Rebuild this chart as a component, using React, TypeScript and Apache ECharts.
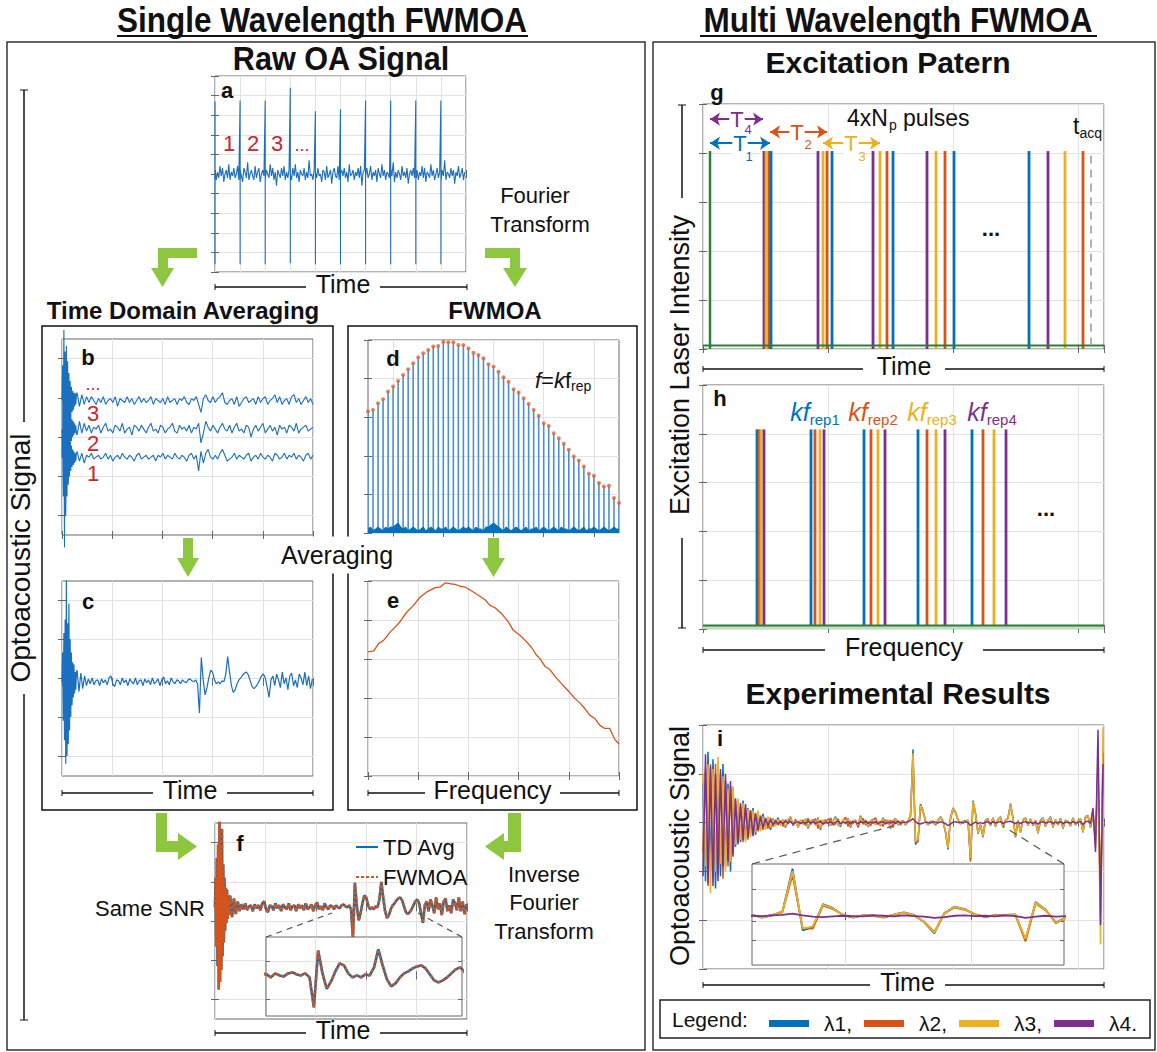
import React, { useEffect, useRef } from "react";
import * as echarts from "echarts";

// ---------------- colours & fonts ----------------
const BLUE = "#0072BD";
const SIG = "#1a6fbf";
const ORANGE = "#D95319";
const YELLOW = "#EDB120";
const PURPLE = "#7E2F8E";
const GREEN = "#2E7D3A";
const RED = "#C8262C";
const ARROW_GREEN = "#8DC63F";
const FRAME = "#666666";
const GRIDC = "#e2e2e2";
const SANS = "'Liberation Sans', Arial, Helvetica, sans-serif";

// ---------------- (a) raw OA signal ----------------
const rawSpikeX = [0, 10, 20, 30, 40, 50, 60, 70, 80, 90];
const rawSpikeTop = [3.7, 3.75, 3.75, 4.4, 3.2, 3.3, 3.75, 3.75, 3.75, 3.75];
const rawSpikeBottom = [-4.6, -4.6, -4.6, -4.55, -4.6, -4.6, -4.6, -4.6, -4.6, -4.6];
const rawNoiseTenths = [
  2, -3, 1, -2, 4, -1, 3, -4, 0, 2, -2, 5, -3, 1, -1, 3, -2, 0, 4, -3, 2, -1, -4, 3, 1, -2, 6, -3, 0, 2, -1, -3, 4, -2, 1, 3, -4, 0, 2, -1,
  -3, 2, 0, -2, 5, -1, 3, -3, 1, -6, 2, 0, -2, 3, -1, 4, -3, 1, -2, 2, 0, -3, 3, -1, 5, -2, 1, -4, 2, 0, -1, 3, -3, 1, -2, 7, -1, 0, -3, 2,
  1, -2, 3, -1, 0, -4, 2, 1, -3, 4, -2, 0, 2, -5, 1, 3, -1, -2, 4, -3, 0, 2, -1, 3, -2, 1, -4, 5, -1, 0, 2, -3, 1, -1, 3, -2, 4, -6, 1, 2,
  -1, 3, -2, 0, 4, -3, 1, -1, 2, -4, 3, 0, -2, 5, -1, 2, -3, 1, 0, -2, 3, -1, 6, -4, 1, -2, 2, 0, -3, 4, -1, 1, -2, 3, -5, 0, 2, -1, 3, -2,
  0, 2, -3, 1, -1, 4, -2, 3, -4, 1, 0, -2, 5, -1, 2, -3, 0, 3, -2, 1, -4, 2, -1, 7, -3, 1, 0, -2, 3, -1, 2, -5, 1, -1, 4, -2, 0, 3, -3, 1,
];

// ---------------- (b) single acquisitions (tenths, relative to each trace level) ----------------
const bLevels = [6.86, 5.4, 3.97];
const bBurst3 = [0, 18, -25, 36, -30, 25, -35, 28, -22, 20, -16, 14, -12, 10, -8, 7, -6, 5, -5, 4, -3, 4, -2, 3];
const bBurst2 = [0, -15, 22, -28, 30, -24, 26, -20, 18, -15, 12, -10, 9, -8, 7, -6, 5, -4, 4, -3, 3, -2, 2, -2];
const bBurst1 = [0, 12, -20, 25, -46, 45, -30, 22, -20, 16, -14, 12, -10, 8, -7, 6, -5, 4, -4, 3, -3, 2, -2, 2];
const bBody3 = [
  4, -3, 3, -2, 2, -1, 2, 0, -2, 1, -1, 2, -2, 0, 1, -1, 2, -3, 1, 0, -1, 2, -1, 1, -2, 0, 2, -1, 1, -1,
  0, 2, -2, 1, 0, -1, 1, -2, 2, -1, 0, 1, -2, 1, 0, 2, -1, -2, 1, 0, 2, -2, -6, 1, 3, 0, -1, 2, -1, 1,
  2, 4, -1, -2, 0, 1, -2, 2, -3, -1, 1, 2, -1, 0, 1, -2, 2, -1, 1, 2, -2, 0, 1, 3, -1, 2, -2, 0, 1, -2,
  2, 3, -1, 1, -2, 0, 2, -1, 1, -2,
];
const bBody2 = [
  -3, 4, -2, 3, -1, 2, -2, 1, 0, 2, -2, 1, 3, -1, 0, -2, 2, 1, -1, 3, -2, 0, 1, -3, 2, 1, -1, 2, 0, -2,
  1, 3, -1, 0, -2, 2, 1, -2, 0, 1, 3, -1, -2, 2, 0, 1, -1, 2, -2, 1, 0, 3, -7, -2, 4, 1, -1, 2, 0, -2,
  1, 3, 0, -1, 2, -2, 1, 3, -1, 0, -2, 2, 1, -4, 0, 2, -1, 1, 3, -2, 0, 2, -1, 1, -3, 2, 0, 1, -2, 2,
  1, -1, 3, -2, 0, 1, 2, -1, 0, 1,
];
const bBody1 = [
  3, -2, 2, -3, 1, 0, 2, -1, 0, 1, -1, 0, 2, -1, 1, -2, 0, 1, -1, 2, 0, -1, 1, 0, -2, 1, 2, -1, 0, 1,
  -1, 0, 1, -2, 1, 0, 2, -1, 1, 0, -1, 2, 0, -1, 1, 0, -2, 1, 2, -1, 1, -7, 3, -3, 2, 4, 0, -1, 1, -1,
  2, 4, 1, -2, -1, 0, 2, -1, 1, 0, -1, 1, 2, -2, 0, 1, -1, 2, 0, -1, 1, 0, -2, 2, 1, -1, 0, 2, -1, 1,
  0, 2, -1, 1, 0, -2, 1, 2, -1, 1,
];

// ---------------- (c)/(f) averaged signal (relative to baseline) ----------------
const cBurst = [0, 1.5, -2.0, 2.5, -3.0, 3.2, -4.2, 5.5, -3.8, 3.0, -3.2, 4.0, -2.5, 2.2, -1.8, 1.5, -1.2, 1.0, -0.8, 0.9, -0.6, 0.5, -0.4, 0.5];
const cBody = [
  0.6, -0.5, 0.45, -0.35, 0.3, -0.2,
  0.15, -0.1, 0.2, -0.15, 0.05, 0.1, -0.2, 0.15, -0.05, 0.1,
  -0.15, 0.2, 0.3, -0.1, -0.25, 0.1, 0.05, -0.15, 0.2, -0.05,
  0.1, -0.2, 0.15, 0.0, -0.1, 0.2, -0.15, 0.05, 0.1, -0.2,
  0.15, -0.05, 0.1, -0.15, 0.2, -0.1, 0.0, 0.15, -0.2, 0.1,
  0.25, -0.1, 0.05, -0.15, 0.2, 0.0, -0.1, 0.1,
  0.05, -0.1, 0.1, 0.0, -0.05, 0.1, 0.15, 0.05, 0.0, 0.1, -0.1,
  -1.6, 1.25, 0.1, -0.67, -0.3, 0.2, 0.6, 0.5, 0.1, -0.1, 0.0, -0.1, 0.05, 0.0, 0.4, 1.3, 0.5, -0.2, -0.55, -0.4,
  -0.1, 0.1, 0.2, 0.35, 0.45, 0.5, 0.35, 0.05, -0.25, -0.35, -0.25, -0.1, 0.1, 0.3, 0.4,
  0.2, -0.3, -0.8, 0.1, 0.3, -0.2, 0.4, 0.1, -0.3, 0.5, -0.1, 0.2, -0.4, 0.3, 0.45, -0.2, 0.1, -0.3, 0.4, 0.2,
  -0.15, 0.5, -0.2, 0.3, -0.35, 0.15,
];

// ---------------- (d) spectrum at k*f_rep, (e) averaged spectrum ----------------
const dStem = [
  62.9, 63.8, 67.2, 69.3, 73.3, 75.9, 78.8, 81.9, 84.8, 87.9, 91.0, 93.1, 94.8, 96.6, 96.9, 99.1, 98.8, 98.8, 97.4, 97.4,
  95.7, 93.4, 92.2, 90.5, 87.4, 86.2, 83.6, 80.7, 78.4, 74.5, 72.8, 69.8, 66.9, 63.8, 60.7, 56.9, 55.5, 51.7, 49.1, 46.2,
  43.1, 39.7, 37.6, 34.5, 30.7, 29.7, 25.9, 24.1, 24.5, 18.1, 15.5,
];
const dFloor = [
  2, 3, 1, 2, 3, 2, 1, 3, 2, 3, 3, 4, 5, 3, 2, 3, 1, 2, 3, 2, 1, 2, 3, 1, 2, 3, 2, 1, 3, 2, 2, 3, 1, 2, 3, 2, 1, 2, 3, 2,
  3, 2, 1, 3, 2, 2, 1, 3, 3, 4, 5, 4, 3, 2, 1, 3, 2, 1, 2, 3, 2, 1, 2, 3, 1, 2, 2, 3, 1, 2, 3, 2, 1, 2, 3, 2, 1, 3, 2, 2,
  1, 2, 3, 2, 1, 2, 3, 1, 2, 2, 3, 2, 1, 2, 3, 2, 1, 2, 3, 2, 2,
];
const eX = [0, 1.13, 2.12, 3.11, 4.44, 6.09, 7.75, 9.07, 10.4, 11.72, 13.38, 14.37, 15.36, 16.36, 17.35, 18.34, 19.34, 20.66, 21.99, 23.31, 24.3, 25.3, 26.6, 27.95, 28.94, 30.26, 31.59, 32.58, 33.58, 34.24, 35.23, 36.23, 37.22, 38.54, 39.87, 41.19, 42.19, 43.18, 44.17, 45.17, 46.16, 47.15, 48.15, 49.14, 50];
const eY = [63.7, 64.2, 67.9, 69.6, 73.9, 78.2, 84.1, 87.5, 91.8, 94.4, 96.6, 96.9, 99.0, 98.6, 98.3, 97.3, 96.9, 94.9, 92.7, 90.4, 87.5, 86.3, 83.3, 79.0, 74.7, 72.2, 68.8, 65.9, 61.9, 60.2, 56.3, 54.6, 51.2, 47.4, 43.7, 39.8, 37.5, 34.6, 31.2, 29.5, 26.1, 24.4, 24.4, 18.8, 16.4];

// ---------------- (g) excitation pattern in time, (h) in frequency ----------------
const gGreen = [7];
const gBlue = [68, 129, 190, 251, 326];
const gOrange = [66, 124, 184, 242, 380];
const gYellow = [63, 120, 177, 233, 362];
const gPurple = [61, 115, 170, 224, 345];
const gHeight = 4.04;
const gTacq = 388;
const hBlue = [54, 108, 161, 215, 269];
const hOrange = [56, 112, 168, 224, 280];
const hYellow = [58, 117, 175, 233, 291];
const hPurple = [61, 121, 182, 242, 303];
const hHeight = 4.09;

// ---------------- (i) experimental results, 4 wavelengths ----------------
const iL1 = [
  0.8, -1.2, 1.45, -1.0, 1.3, -1.35, 0.9, -1.1, 1.2, -0.9, 0.8, -1.0, 0.7,
  -0.5, 0.45, -0.4, 0.45, -0.35, 0.3, -0.25, 0.3,
  -0.25, 0.2, -0.15, 0.18, -0.12, 0.1, -0.15, 0.08, -0.05, 0.1,
  -0.05, 0.06, -0.1, 0.04, 0.12, -0.06, 0.02, -0.08, 0.05, -0.03,
  0.08, -0.12, 0.03, 0.06, -0.05, 0.1, -0.15, 0.04, -0.02, 0.07,
  -0.06, 0.03, 0.12, -0.04, -0.08, 0.05, -0.02, 0.09, -0.1, 0.04,
  0.02, -0.06, 0.14, -0.03, 0.05, -0.09, 0.03, 0.07, -0.04, 0.02,
  -0.07, 0.1, -0.03, 0.05, -0.12, 0.04, 0.08, -0.05, 0.02, 0.04,
  -0.05, 0.02, 0.15, 1.5, -0.45, -0.35, 0.38, 0.25, 0.02, -0.05,
  0.03, 0.0, -0.04, 0.05, 0.12, 0.04, -0.2, -0.55, 0.1, 0.3,
  0.22, 0.05, -0.03, 0.02, 0.04, 0.05, -0.75, 0.45, 0.2, -0.23,
  -0.05, -0.3, 0.05,
  0.08, -0.06, 0.1, -0.08, 0.05, 0.12, -0.1, 0.04, 0.1, 0.39, 0.1, -0.3, 0.05, -0.2, 0.06,
  0.1, -0.05, 0.08, -0.06, 0.03, -0.22, 0.05, 0.1, -0.08, 0.04, 0.12, -0.1,
  0.06, -0.04, 0.09, -0.12, 0.05, 0.02, -0.07, 0.1, -0.05, 0.03,
  0.08, -0.2, 0.12, 0.15, -0.1,
  0.2, -0.4, 1.2, -1.9, 1.43,
];
const iL2 = [
  -0.6, 1.1, -1.3, 1.2, -1.1, 1.2, -0.8, 1.0, -1.15, 0.85, -0.9, 0.75, -0.65,
  0.45, -0.4, 0.35, -0.4, 0.3, -0.35, 0.25, -0.25,
  0.2, -0.18, 0.15, -0.15, 0.1, -0.12, 0.1, -0.08, 0.06, -0.05,
  0.04, -0.08, 0.06, -0.03, 0.1, -0.05, 0.07, -0.1, 0.02, 0.05,
  -0.06, 0.09, -0.04, 0.02, 0.08, -0.12, 0.05, -0.03, 0.06, -0.02,
  0.1, -0.05, -0.03, 0.08, -0.06, 0.04, 0.11, -0.08, 0.03, -0.02,
  0.06, -0.1, 0.04, 0.09, -0.05, 0.02, -0.07, 0.05, 0.1, -0.04,
  0.03, -0.08, 0.06, -0.02, 0.05, -0.1, 0.07, 0.02, -0.05, 0.03,
  -0.03, 0.04, 0.12, 1.3, -0.38, -0.4, 0.33, 0.22, 0.04, -0.04,
  0.02, 0.03, -0.05, 0.04, 0.1, 0.02, -0.18, -0.5, 0.08, 0.27,
  0.2, 0.06, -0.02, 0.03, 0.02, 0.04, -0.8, 0.4, 0.18, -0.2,
  -0.04, -0.27, 0.04,
  0.05, -0.04, 0.08, -0.06, 0.07, 0.1, -0.08, 0.05, 0.08, 0.35, 0.08, -0.27, 0.04, -0.18, 0.05,
  0.08, -0.06, 0.06, -0.04, 0.05, -0.2, 0.03, 0.08, -0.06, 0.05, 0.1, -0.08,
  0.05, -0.05, 0.07, -0.1, 0.04, 0.03, -0.06, 0.08, -0.04, 0.02,
  0.06, -0.18, 0.1, 0.12, -0.08,
  0.15, -0.3, 1.0, -1.6, 1.3,
];
const iL3 = [
  1.0, -0.9, 1.2, -1.45, 1.1, -1.0, 1.35, -0.85, 0.95, -1.0, 0.7, -0.8, 0.75,
  -0.45, 0.5, -0.35, 0.4, -0.4, 0.28, -0.3, 0.25,
  -0.2, 0.25, -0.18, 0.12, -0.15, 0.12, -0.1, 0.06, -0.08, 0.07,
  -0.06, 0.05, -0.08, 0.07, 0.1, -0.04, 0.03, -0.09, 0.06, -0.02,
  0.07, -0.1, 0.05, 0.04, -0.06, 0.08, -0.12, 0.06, -0.03, 0.05,
  -0.05, 0.04, 0.1, -0.06, -0.05, 0.07, -0.03, 0.08, -0.08, 0.05,
  0.03, -0.05, 0.12, -0.04, 0.06, -0.08, 0.04, 0.06, -0.05, 0.03,
  -0.06, 0.08, -0.04, 0.06, -0.1, 0.05, 0.07, -0.04, 0.03, 0.03,
  -0.04, 0.03, 0.14, 1.42, -0.4, -0.33, 0.36, 0.24, 0.03, -0.04,
  0.02, 0.01, -0.03, 0.05, 0.11, 0.03, -0.19, -0.52, 0.09, 0.29,
  0.21, 0.05, -0.02, 0.02, 0.03, 0.05, -0.72, 0.43, 0.19, -0.22,
  -0.05, -0.28, 0.05,
  0.07, -0.05, 0.09, -0.07, 0.06, 0.11, -0.09, 0.05, 0.09, 0.37, 0.09, -0.28, 0.05, -0.19, 0.06,
  0.09, -0.05, 0.07, -0.05, 0.04, -0.21, 0.04, 0.09, -0.07, 0.05, 0.11, -0.09,
  0.06, -0.04, 0.08, -0.11, 0.05, 0.02, -0.06, 0.09, -0.05, 0.03,
  0.07, -0.19, 0.11, 0.14, -0.09,
  0.25, -0.5, 0.9, -2.5, 1.95,
];
const iL4 = [
  -1.1, 1.4, -1.25, 1.15, -1.3, 1.0, -1.2, 1.1, -0.9, 1.0, -0.8, 0.85, -0.7,
  0.5, -0.45, 0.4, -0.35, 0.38, -0.3, 0.25, -0.28,
  0.18, -0.15, 0.12, -0.1, 0.08, -0.06, 0.05, -0.04, 0.03, -0.03,
  0.02, -0.02, 0.03, -0.01, 0.02, -0.03, 0.01, 0.02, -0.02, 0.01,
  -0.02, 0.03, -0.01, 0.02, -0.02, 0.01, 0.02, -0.03, 0.01, -0.01,
  0.02, -0.02, 0.01, 0.03, -0.02, 0.01, -0.01, 0.02, -0.03, 0.02,
  0.01, -0.02, 0.02, -0.01, 0.03, -0.02, 0.01, -0.01, 0.02, -0.02,
  0.01, 0.02, -0.02, 0.01, -0.01, 0.02, -0.02, 0.03, -0.01, 0.01,
  0.0, 0.02, 0.04, 0.08, 0.02, -0.02, -0.03, -0.01, 0.01, 0.0,
  -0.01, 0.02, 0.01, -0.01, 0.02, 0.0, -0.02, -0.06, -0.03, 0.01,
  0.02, 0.0, 0.01, -0.01, 0.02, 0.0, -0.06, -0.02, 0.01, -0.02,
  0.0, -0.02, 0.01,
  0.01, -0.02, 0.02, -0.01, 0.01, 0.02, -0.02, 0.01, 0.02, 0.03, 0.0, -0.02, 0.01, -0.02, 0.01,
  0.02, -0.01, 0.01, -0.02, 0.01, -0.03, 0.01, 0.02, -0.01, 0.01, 0.02, -0.02,
  0.01, -0.01, 0.02, -0.02, 0.01, 0.0, -0.01, 0.02, -0.01, 0.01,
  0.02, -0.04, 0.02, 0.03, -0.02,
  0.3, -0.6, 1.9, -2.1, 1.2,
];
const iNames = ["λ1,", "λ2,", "λ3,", "λ4."];

// ---------------- option builder ----------------
type Range = { min: number; max: number; interval?: number; custom?: number[] };
type Panel = { xi: number; yi: number };

function buildOption() {
  const grids: any[] = [];
  const xAxes: any[] = [];
  const yAxes: any[] = [];
  const series: any[] = [];
  const G: any[] = [];

  const axis = (gi: number, r: Range, pos: string, main: boolean, z: number) => {
    const a: any = {
      type: "value",
      gridIndex: gi,
      min: r.min,
      max: r.max,
      position: pos,
      z,
      axisLine: { show: false },
      axisLabel: { show: false },
      axisTick: { show: true, inside: true, length: 4, lineStyle: { color: FRAME, width: 1 } },
      splitLine: { show: main, lineStyle: { color: GRIDC, width: 1 } },
    };
    if (r.interval !== undefined) a.interval = r.interval;
    if (r.custom) {
      a.axisTick.customValues = r.custom;
      a.axisLabel.customValues = r.custom;
    }
    return a;
  };

  const addPanel = (rect: { left: number; top: number; width: number; height: number }, xr: Range, yr: Range, z = 0): Panel => {
    const gi = grids.length;
    grids.push({
      ...rect,
      show: true,
      backgroundColor: "#fff",
      borderColor: FRAME,
      borderWidth: 1,
      z,
      containLabel: false,
      outerBoundsMode: "none",
    });
    const xi = xAxes.length;
    xAxes.push(axis(gi, xr, "bottom", true, z + 1));
    xAxes.push(axis(gi, xr, "top", false, z + 1));
    const yi = yAxes.length;
    yAxes.push(axis(gi, yr, "left", true, z + 1));
    yAxes.push(axis(gi, yr, "right", false, z + 1));
    return { xi, yi };
  };

  const line = (p: Panel, data: any[], color: string, width: number, extra: any = {}) => {
    const { lineStyle, ...rest } = extra;
    series.push({
      type: "line",
      xAxisIndex: p.xi,
      yAxisIndex: p.yi,
      data,
      symbol: "none",
      showSymbol: false,
      silent: true,
      animation: false,
      itemStyle: { color },
      lineStyle: { color, width, ...(lineStyle || {}) },
      ...rest,
    });
  };

  const stems = (p: Panel, data: number[][], color: string, width: number, z = 2) => {
    series.push({
      type: "custom",
      xAxisIndex: p.xi,
      yAxisIndex: p.yi,
      data,
      silent: true,
      clip: true,
      z,
      encode: { x: 0, y: 1 },
      renderItem: (_params: any, api: any) => {
        const x = api.value(0);
        const y = api.value(1);
        const p0 = api.coord([x, 0]);
        const p1 = api.coord([x, y]);
        return { type: "line", shape: { x1: p0[0], y1: p0[1], x2: p1[0], y2: p1[1] }, style: { stroke: color, lineWidth: width } };
      },
    });
  };

  // ---- graphic helpers ----
  const txt = (x: number, y: number, text: string, o: any = {}) => {
    const style: any = {
      text,
      fill: o.color || "#111",
      fontSize: o.size || 22,
      fontFamily: o.family || SANS,
      fontWeight: o.weight || "normal",
      fontStyle: o.fstyle || "normal",
      align: o.align || "center",
      verticalAlign: o.valign || "middle",
    };
    if (o.rich) style.rich = o.rich;
    if (o.bg) style.backgroundColor = o.bg;
    if (o.padding) style.padding = o.padding;
    const el: any = { type: "text", x, y, z: o.z || 50, rotation: o.rotation || 0, silent: true, style };
    if (o.scaleX) el.scaleX = o.scaleX;
    G.push(el);
  };
  const ln = (x1: number, y1: number, x2: number, y2: number, o: any = {}) => {
    const style: any = { stroke: o.color || "#111", lineWidth: o.width || 1.5 };
    if (o.dash) style.lineDash = o.dash;
    G.push({ type: "line", z: o.z || 40, silent: true, shape: { x1, y1, x2, y2 }, style });
  };
  const poly = (points: number[][], fill: string) => {
    G.push({ type: "polygon", z: 40, silent: true, shape: { points }, style: { fill } });
  };
  const box = (x: number, y: number, w: number, h: number, color = "#222", width = 1.5) => {
    G.push({ type: "rect", z: 39, silent: true, shape: { x, y, width: w, height: h }, style: { fill: "none", stroke: color, lineWidth: width } });
  };
  const axisTitle = (x1: number, x2: number, y: number, gl: number, gr: number, label: string) => {
    ln(x1, y, gl, y);
    ln(gr, y, x2, y);
    ln(x1, y - 3, x1, y + 3, { width: 1 });
    ln(x2, y - 3, x2, y + 3, { width: 1 });
    txt((gl + gr) / 2, y - 3, label, { size: 25 });
  };

  // ================= panels =================
  // (a)
  const A = addPanel({ left: 215, top: 76, width: 251, height: 196 }, { min: 0, max: 100, interval: 10 }, { min: -5, max: 5, interval: 1 });
  const aData: number[][] = [];
  rawNoiseTenths.forEach((v, i) => {
    const x = i * 0.5;
    const k = rawSpikeX.indexOf(x);
    if (k >= 0) {
      aData.push([x, rawSpikeTop[k]]);
      aData.push([x, rawSpikeBottom[k]]);
    }
    aData.push([x, v / 10]);
  });
  line(A, aData, SIG, 1.1);

  // (b)
  const B = addPanel({ left: 62, top: 339, width: 251, height: 196 }, { min: 0, max: 100, interval: 20 }, { min: 0, max: 10, custom: [1, 3, 5, 7, 9] });
  const traceB = (burst: number[], body: number[], level: number) => {
    const pts = burst.map((v, i) => [i * 0.25, level + v / 10]);
    body.forEach((v, i) => pts.push([6 + (i * 94) / (body.length - 1), level + v / 10]));
    return pts;
  };
  line(B, traceB(bBurst1, bBody1, bLevels[2]), SIG, 1.1, { clip: false });
  line(B, traceB(bBurst2, bBody2, bLevels[1]), SIG, 1.1, { clip: false });
  line(B, traceB(bBurst3, bBody3, bLevels[0]), SIG, 1.1, { clip: false });

  // averaged signal table (shared by c and f)
  const avgSignal = [...cBurst.map((v, i) => [i * 0.25, v]), ...cBody.map((v, i) => [6 + i * 0.75, v])];

  // (c)
  const C = addPanel({ left: 62, top: 581, width: 251, height: 195 }, { min: 0, max: 100, interval: 20 }, { min: -4.83, max: 5.17, custom: [-3.83, -1.83, 0.17, 2.17, 4.17] });
  line(C, avgSignal, SIG, 1.2);

  // (d)
  const D = addPanel({ left: 368, top: 340, width: 251, height: 193 }, { min: 0, max: 50, custom: [5, 15, 25, 35, 45] }, { min: 0, max: 100, interval: 20 });
  stems(D, dStem.map((v, k) => [k, v]), "#4a8fd1", 1.6);
  line(D, dFloor.map((v, i) => [i * 0.5, v]), BLUE, 1.2, { areaStyle: { color: BLUE, opacity: 1 }, z: 3 });
  series.push({
    type: "scatter",
    xAxisIndex: D.xi,
    yAxisIndex: D.yi,
    data: dStem.map((v, k) => [k, v]),
    symbolSize: 4,
    itemStyle: { color: "#E8602C" },
    silent: true,
    z: 4,
  });

  // (e)
  const E = addPanel({ left: 368, top: 581, width: 251, height: 195 }, { min: 0, max: 50, interval: 10 }, { min: 0, max: 100, interval: 20 });
  line(E, eX.map((x, i) => [x, eY[i]]), ORANGE, 1.3);

  // (f)
  const F = addPanel({ left: 215, top: 823, width: 252, height: 196 }, { min: 0, max: 100, interval: 20 }, { min: -5.7, max: 4.3, custom: [-4.7, -2.7, -0.7, 1.3, 3.3] });
  line(F, avgSignal, BLUE, 2.6, { name: "TD Avg" });
  line(F, avgSignal, ORANGE, 2.6, { name: "FWMOA", lineStyle: { type: [3, 2] } });
  const FI = addPanel({ left: 266, top: 937, width: 196, height: 79 }, { min: 46.4, max: 80.6, custom: [55, 63.85, 72.6] }, { min: -2.03, max: 1.92, custom: [-1.18, 0.72] }, 5);
  line(FI, avgSignal, BLUE, 2.6, { name: "TD Avg", z: 7 });
  line(FI, avgSignal, ORANGE, 2.6, { name: "FWMOA", z: 8, lineStyle: { type: [3, 2] } });

  // (g)
  const Gp = addPanel({ left: 703, top: 104, width: 401, height: 245 }, { min: 0, max: 401, interval: 125 }, { min: 0, max: 5, interval: 1 });
  stems(Gp, gGreen.map((x) => [x, gHeight]), GREEN, 2.5);
  stems(Gp, gPurple.map((x) => [x, gHeight]), PURPLE, 2.8);
  stems(Gp, gYellow.map((x) => [x, gHeight]), YELLOW, 2.8);
  stems(Gp, gOrange.map((x) => [x, gHeight]), ORANGE, 2.8);
  stems(Gp, gBlue.map((x) => [x, gHeight]), BLUE, 2.8);
  line(Gp, [[0, 0.07], [401, 0.07]], GREEN, 2, {
    z: 4,
    markLine: {
      silent: true,
      animation: false,
      symbol: ["arrow", "arrow"],
      symbolSize: 10,
      label: { show: false },
      lineStyle: { width: 2, type: "solid" },
      data: [
        [{ coord: [7, 4.69], lineStyle: { color: PURPLE, width: 2, type: "solid" } }, { coord: [60, 4.69] }],
        [{ coord: [7, 4.2], lineStyle: { color: BLUE, width: 2, type: "solid" } }, { coord: [67, 4.2] }],
        [{ coord: [67, 4.43], lineStyle: { color: ORANGE, width: 2, type: "solid" } }, { coord: [124, 4.43] }],
        [{ coord: [120, 4.2], lineStyle: { color: YELLOW, width: 2, type: "solid" } }, { coord: [177, 4.2] }],
        [
          { coord: [gTacq, 0.07], symbol: "none", lineStyle: { color: "#999", width: 1.5, type: [8, 6] } },
          { coord: [gTacq, gHeight], symbol: "none" },
        ],
      ],
    },
  });

  // (h)
  const H = addPanel({ left: 703, top: 385, width: 401, height: 244 }, { min: 0, max: 401, interval: 125 }, { min: 0, max: 5, interval: 1 });
  stems(H, hBlue.map((x) => [x, hHeight]), BLUE, 2.8);
  stems(H, hOrange.map((x) => [x, hHeight]), ORANGE, 2.8);
  stems(H, hYellow.map((x) => [x, hHeight]), YELLOW, 2.8);
  stems(H, hPurple.map((x) => [x, hHeight]), PURPLE, 2.8);
  line(H, [[0, 0.07], [401, 0.07]], GREEN, 2, { z: 4, areaStyle: { color: "#bfe0bf", opacity: 1 } });

  // (i)
  const I = addPanel({ left: 703, top: 725, width: 401, height: 244 }, { min: 0, max: 401, interval: 125 }, { min: -3, max: 2, interval: 1 });
  const iSeries = [iL1, iL2, iL3, iL4];
  const iColors = [BLUE, ORANGE, YELLOW, PURPLE];
  iSeries.forEach((arr, s) => line(I, arr.map((v, k) => [k * 2.5, v]), iColors[s], 1.5, { name: iNames[s] }));
  const II = addPanel({ left: 752, top: 864, width: 312, height: 101 }, { min: 200, max: 277, custom: [223, 254] }, { min: -1.55, max: 1.65, custom: [-0.75, -0.16, 0.85] }, 5);
  iSeries.forEach((arr, s) => line(II, arr.map((v, k) => [k * 2.5, v]), iColors[s], 1.8, { name: iNames[s], z: 7 + s }));

  // ================= decorations =================
  // outer frames
  box(7, 42, 638, 1008, "#333", 1.5);
  box(653, 42, 502, 1008, "#333", 1.5);
  box(42, 326, 291, 484, "#111", 1.5);
  box(348, 326, 289, 484, "#111", 1.5);

  // headings (condensed bold, as in the reference)
  txt(322, 20, "Single Wavelength FWMOA", { size: 35, weight: "bold", scaleX: 0.9 });
  ln(117, 36, 528, 36, { width: 2 });
  txt(898, 20, "Multi Wavelength FWMOA", { size: 35, weight: "bold", scaleX: 0.9 });
  ln(700, 36, 1097, 36, { width: 2 });
  txt(341, 58, "Raw OA Signal", { size: 34, weight: "bold", scaleX: 0.9 });
  txt(888, 62, "Excitation Patern", { size: 30, weight: "bold" });
  txt(898, 693, "Experimental Results", { size: 30, weight: "bold" });
  txt(183, 310, "Time Domain Averaging", { size: 24, weight: "bold" });
  txt(495, 310, "FWMOA", { size: 24, weight: "bold" });

  // side texts
  txt(535, 195, "Fourier", { size: 22 });
  txt(540, 224, "Transform", { size: 22 });
  txt(337, 555, "Averaging", { size: 25, bg: "#fff", padding: [6, 4] });
  txt(205, 908, "Same SNR", { size: 22, align: "right" });
  txt(544, 874, "Inverse", { size: 22 });
  txt(544, 902, "Fourier", { size: 22 });
  txt(544, 931, "Transform", { size: 22 });

  // vertical axis titles
  txt(20, 558, "Optoacoustic Signal", { size: 28, rotation: Math.PI / 2 });
  ln(24, 90, 24, 422);
  ln(24, 694, 24, 1020);
  ln(20, 90, 28, 90, { width: 1 });
  ln(20, 1020, 28, 1020, { width: 1 });
  txt(680, 365, "Excitation Laser Intensity", { size: 27, rotation: Math.PI / 2 });
  ln(682, 105, 682, 198);
  ln(682, 538, 682, 628);
  ln(678, 105, 686, 105, { width: 1 });
  ln(678, 628, 686, 628, { width: 1 });
  txt(680, 846, "Optoacoustic Signal", { size: 27, rotation: Math.PI / 2 });

  // horizontal axis titles
  axisTitle(215, 467, 287, 306, 380, "Time");
  axisTitle(62, 313, 793, 153, 227, "Time");
  axisTitle(368, 619, 793, 425, 560, "Frequency");
  axisTitle(215, 467, 1033, 306, 380, "Time");
  axisTitle(703, 1104, 369, 863, 945, "Time");
  axisTitle(703, 1104, 650, 825, 983, "Frequency");
  axisTitle(703, 1104, 985, 870, 945, "Time");

  // panel letters
  const letter = (x: number, y: number, s: string) => txt(x, y, s, { size: 22, weight: "bold", z: 60 });
  letter(227, 90, "a");
  letter(88, 357, "b");
  letter(88, 601, "c");
  letter(393, 358, "d");
  letter(393, 600, "e");
  letter(240, 843, "f");
  letter(717, 92, "g");
  letter(720, 398, "h");
  letter(720, 738, "i");

  // red counters
  txt(229, 143, "1", { size: 22, color: RED, z: 60 });
  txt(253, 143, "2", { size: 22, color: RED, z: 60 });
  txt(277, 143, "3", { size: 22, color: RED, z: 60 });
  txt(302, 145, "...", { size: 18, color: RED, z: 60 });
  txt(93, 384, "...", { size: 18, color: RED, z: 60 });
  txt(93, 413, "3", { size: 22, color: RED, z: 60 });
  txt(93, 443, "2", { size: 22, color: RED, z: 60 });
  txt(93, 473, "1", { size: 22, color: RED, z: 60 });

  // f = k f_rep
  txt(535, 380, "{i|f}{n|=}{i|k}{n|f}{s|rep}", {
    align: "left",
    z: 60,
    rich: {
      i: { fontSize: 22, fontFamily: SANS, fontStyle: "italic", fill: "#111" },
      n: { fontSize: 22, fontFamily: SANS, fill: "#111" },
      s: { fontSize: 14, fontFamily: SANS, fill: "#111", padding: [12, 0, 0, 0] },
    },
  });

  // g annotations
  const tLab = (x: number, y: number, sub: string, color: string, sx: number, sy: number) => {
    txt(x, y, "T", { size: 22, color, bg: "#fff", padding: [0, 1], z: 60 });
    txt(sx, sy, sub, { size: 13, color, z: 61 });
  };
  tLab(737, 119, "4", PURPLE, 748, 129);
  tLab(740, 143, "1", BLUE, 749, 156);
  tLab(797, 132, "2", ORANGE, 808, 144);
  tLab(851, 143, "3", YELLOW, 862, 156);
  txt(847, 118, "{a|4xN}{b|p}{a| pulses}", {
    align: "left",
    z: 60,
    rich: {
      a: { fontSize: 23, fontFamily: SANS, fill: "#111" },
      b: { fontSize: 14, fontFamily: SANS, fill: "#111", padding: [13, 0, 0, 1] },
    },
  });
  txt(1073, 126, "{a|t}{b|acq}", {
    align: "left",
    z: 60,
    rich: {
      a: { fontSize: 23, fontFamily: SANS, fill: "#111" },
      b: { fontSize: 14, fontFamily: SANS, fill: "#111", padding: [13, 0, 0, 0] },
    },
  });
  txt(991, 228, "...", { size: 22, weight: "bold", z: 60 });

  // h annotations
  const kLab = (x: number, color: string, sub: string) =>
    txt(x, 412, `{k|kf}{s|${sub}}`, {
      z: 60,
      rich: {
        k: { fontSize: 25, fontFamily: SANS, fontStyle: "italic", fill: color },
        s: { fontSize: 15, fontFamily: SANS, fill: color, padding: [15, 0, 0, 0] },
      },
    });
  kLab(815, BLUE, "rep1");
  kLab(873, ORANGE, "rep2");
  kLab(932, YELLOW, "rep3");
  kLab(992, PURPLE, "rep4");
  txt(1046, 508, "...", { size: 22, weight: "bold", z: 60 });

  // zoom connectors
  ln(266, 937, 332, 913, { color: "#555", width: 1.2, dash: [6, 5] });
  ln(462, 937, 418, 913, { color: "#555", width: 1.2, dash: [6, 5] });
  ln(752, 864, 893, 826, { color: "#555", width: 1.2, dash: [8, 6] });
  ln(1064, 864, 1003, 826, { color: "#555", width: 1.2, dash: [8, 6] });

  // green flow arrows
  poly([[197, 248], [158, 248], [158, 268], [151, 268], [162.5, 287], [174, 268], [168, 268], [168, 258], [197, 258]], ARROW_GREEN);
  poly([[485, 248], [520, 248], [520, 268], [527, 268], [515, 287], [503, 268], [510, 268], [510, 258], [485, 258]], ARROW_GREEN);
  poly([[183, 538], [193, 538], [193, 558], [199, 558], [188, 577], [177, 558], [183, 558]], ARROW_GREEN);
  poly([[488, 538], [499, 538], [499, 558], [505, 558], [493.5, 577], [482, 558], [488, 558]], ARROW_GREEN);
  poly([[156, 813], [167, 813], [167, 841], [178, 841], [178, 833], [197, 846.5], [178, 860], [178, 852], [156, 852]], ARROW_GREEN);
  poly([[521, 813], [508, 813], [508, 841], [504, 841], [504, 833], [485, 846.5], [504, 860], [504, 852], [521, 852]], ARROW_GREEN);

  // legend frame (bottom right)
  box(660, 1000, 490, 38, "#222", 1.5);
  txt(672, 1019, "Legend:", { size: 21, align: "left" });

  return {
    animation: false,
    backgroundColor: "#fff",
    grid: grids,
    xAxis: xAxes,
    yAxis: yAxes,
    series,
    legend: [
      {
        data: ["TD Avg", "FWMOA"],
        left: 350,
        top: 831,
        orient: "vertical",
        itemWidth: 22,
        itemHeight: 2,
        itemGap: 8,
        selectedMode: false,
        itemStyle: { opacity: 0 },
        textStyle: { fontSize: 22, fontFamily: SANS, color: "#111" },
      },
      {
        data: iNames,
        left: 764,
        top: 1008,
        orient: "horizontal",
        icon: "rect",
        itemWidth: 40,
        itemHeight: 7,
        itemGap: 12,
        selectedMode: false,
        textStyle: { fontSize: 21, fontFamily: SANS, color: "#111", padding: [0, 0, 0, 10] },
      },
    ],
    graphic: { elements: G },
  };
}

export default function App() {
  const ref = useRef<HTMLDivElement>(null);
  useEffect(() => {
    if (!ref.current) return;
    const chart = echarts.init(ref.current, null, { renderer: "svg", width: 1157, height: 1052 });
    chart.setOption(buildOption() as any);
    return () => chart.dispose();
  }, []);
  return (
    <div
      ref={ref}
      style={{ position: "absolute", left: 0, top: 0, width: 1157, height: 1052, background: "#fff" }}
    />
  );
}
